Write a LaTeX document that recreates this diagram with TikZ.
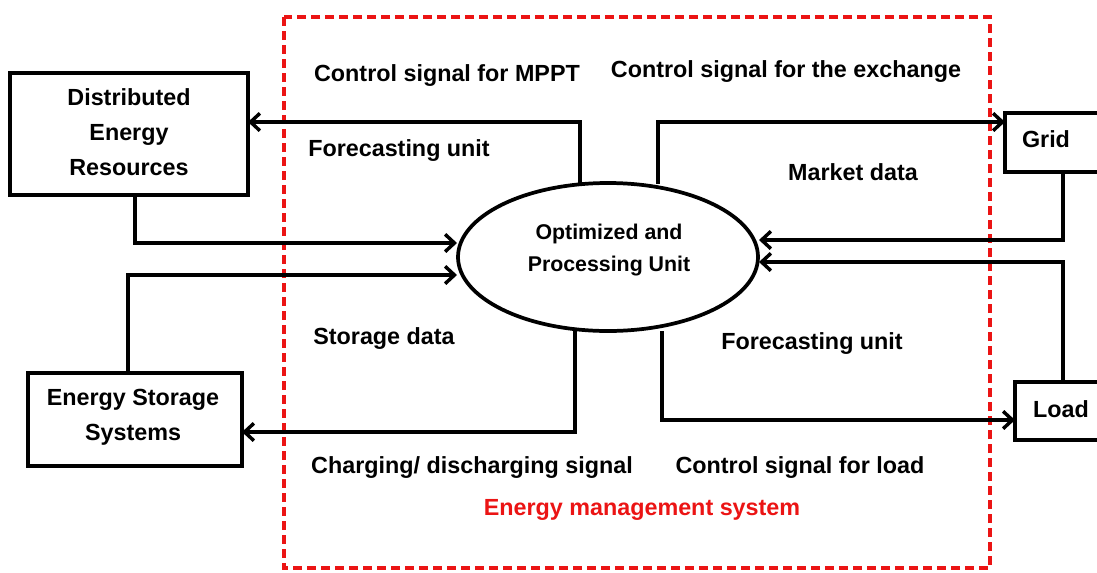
\documentclass[tikz,border=0pt]{standalone}
\usepackage{fontspec}
\setmainfont{Liberation Sans}
\usetikzlibrary{arrows.meta,shapes.geometric}
\definecolor{emsred}{RGB}{235,20,20}
\begin{document}
\begin{tikzpicture}[x=0.75pt,y=-0.75pt,
  boxline/.style={draw,line width=2.8pt},
  boxtext/.style={align=center,inner sep=0pt,font=\bfseries\fontsize{17.5}{26}\selectfont},
  lbl/.style={font=\bfseries\fontsize{17.5}{21}\selectfont,inner sep=0pt},
  conn/.style={line width=2.6pt,-{Straight Barb[length=7pt,width=13pt]}},
  frame/.style={draw=emsred,line width=2.5pt,dash pattern=on 7pt off 3.5pt}]
\useasboundingbox (0,0) rectangle (1097,572);
% energy management system frame
\draw[frame] (284,17) rectangle (990,568);
% Distributed Energy Resources
\draw[boxline] (10,73) rectangle (248,195);
\node[boxtext] (der) at (129,132) {Distributed\\Energy\\Resources};
\coordinate (derR) at (248,122);
\coordinate (derB) at (135,195);
% Energy Storage Systems
\draw[boxline] (28,373) rectangle (242,466);
\node[boxtext] (ess) at (133,417) {Energy Storage\\Systems};
\coordinate (essR) at (242,432);
\coordinate (essT) at (128,373);
% Grid
\draw[boxline] (1005,113) rectangle (1112,172);
\node[boxtext] (grid) at (1046,139) {Grid};
\coordinate (gridL) at (1005,122);
\coordinate (gridB) at (1063,172);
% Load
\draw[boxline] (1015,382) rectangle (1112,440);
\node[boxtext] (load) at (1061,409) {Load};
\coordinate (loadL) at (1015,420);
\coordinate (loadT) at (1063,382);
% central unit
\node[draw,ellipse,line width=2.8pt,minimum width=225pt,minimum height=111pt,inner sep=0pt] (opu) at (608,257) {};
\node[align=center,font=\bfseries\fontsize{16}{24}\selectfont] (opulabel) at (609,250) {Optimized and\\Processing Unit};
% connectors
\draw[conn] (580,184) |- (derR);
\draw[conn] (658,184) |- (gridL);
\draw[conn] (derB) |- (457,243);
\draw[conn] (essT) |- (457,275);
\draw[conn] (575,330) |- (essR);
\draw[conn] (662,331) |- (loadL);
\draw[conn] (gridB) |- (759,240);
\draw[conn] (loadT) |- (759,262);
% labels
\node[lbl] (l1) at (447,76) {Control signal for MPPT};
\node[lbl] (l2) at (786,72) {Control signal for the exchange};
\node[lbl] (l3) at (399,151) {Forecasting unit};
\node[lbl] (l4) at (853,172) {Market data};
\node[lbl] (l5) at (384,339) {Storage data};
\node[lbl] (l6) at (812,344) {Forecasting unit};
\node[lbl] (l7) at (472,468) {Charging/ discharging signal};
\node[lbl] (l8) at (800,468) {Control signal for load};
\node[lbl,text=emsred] (l9) at (642,510) {Energy management system};
\end{tikzpicture}
\end{document}
